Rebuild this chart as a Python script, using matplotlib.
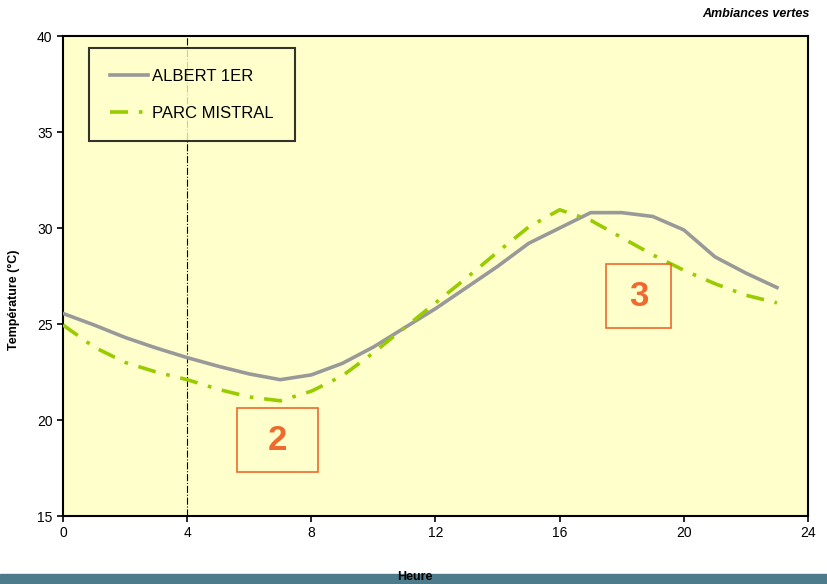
import matplotlib.pyplot as plt
from matplotlib.patches import Rectangle

# hourly temperatures (deg C)
hours = list(range(24))
albert = [25.55, 24.95, 24.3, 23.75, 23.25, 22.8, 22.4, 22.1, 22.35, 22.95,
          23.8, 24.8, 25.8, 26.9, 28.0, 29.2, 30.0, 30.8, 30.8, 30.6,
          29.9, 28.5, 27.65, 26.9]
mistral = [24.95, 23.8, 23.0, 22.5, 22.1, 21.6, 21.2, 21.0, 21.5, 22.3,
           23.5, 24.8, 26.1, 27.4, 28.75, 30.05, 30.95, 30.4, 29.5, 28.6,
           27.8, 27.1, 26.5, 26.1]
xticks = [0, 4, 8, 12, 16, 20, 24]
yticks = [15, 20, 25, 30, 35, 40]
zones = [("2", 5.6, 8.2, 17.3, 20.6), ("3", 17.5, 19.6, 24.8, 28.1)]

plt.rcParams["font.family"] = ["Liberation Sans", "DejaVu Sans"]

fig = plt.figure(figsize=(8.28, 5.84), dpi=100)
ax = fig.add_axes([63 / 828, 68 / 584, 745 / 828, 480 / 584])
ax.set_facecolor("#FFFFCC")

ax.plot(hours, albert, color="#999999", lw=2.6, label="ALBERT 1ER", zorder=3)
ax.plot(hours, mistral, color="#99CC00", lw=2.6, ls=(0, (5, 3, 1, 3)),
        label="PARC MISTRAL", zorder=3)
ax.axvline(4, color="black", lw=0.8, ls="-.", zorder=2)

for label, x0, x1, y0, y1 in zones:
    ax.add_patch(Rectangle((x0, y0), x1 - x0, y1 - y0, fill=False,
                           edgecolor="#EE6A2E", lw=1.2, zorder=4))
    ax.text((x0 + x1) / 2, (y0 + y1) / 2, label, color="#EE6A2E",
            fontsize=25, fontweight="bold", ha="center", va="center",
            zorder=5)

ax.set_xlim(0, 24)
ax.set_ylim(15, 40)
ax.set_xticks(xticks)
ax.set_yticks(yticks)
ax.tick_params(labelsize=10, direction="out", length=4, width=1.2)
for s in ax.spines.values():
    s.set_linewidth(1.5)

leg = ax.legend(loc="upper left", bbox_to_anchor=(0.035, 0.975),
                frameon=True, fancybox=False, fontsize=12, handlelength=2.3,
                borderpad=1.25, labelspacing=1.3, handletextpad=0.25,
                borderaxespad=0)
leg.get_frame().set_edgecolor("black")
leg.get_frame().set_linewidth(1.5)
leg.get_frame().set_facecolor("#FFFFCC")

fig.text(14 / 828, 1 - 300 / 584, "Température (°C)", rotation=90,
         fontsize=9, fontweight="bold", ha="center", va="center")
fig.text(810 / 828, 1 - 14 / 584, "Ambiances vertes", fontsize=9,
         fontweight="bold", style="italic", ha="right", va="center")

fig.add_artist(Rectangle((0, 0), 1, 10 / 584, transform=fig.transFigure,
                         color="#4D7B8C", zorder=0))
fig.text(415 / 828, 1 - 577 / 584, "Heure", fontsize=9, fontweight="bold",
         ha="center", va="center", zorder=2)

fig.savefig("out.png", dpi=100)
